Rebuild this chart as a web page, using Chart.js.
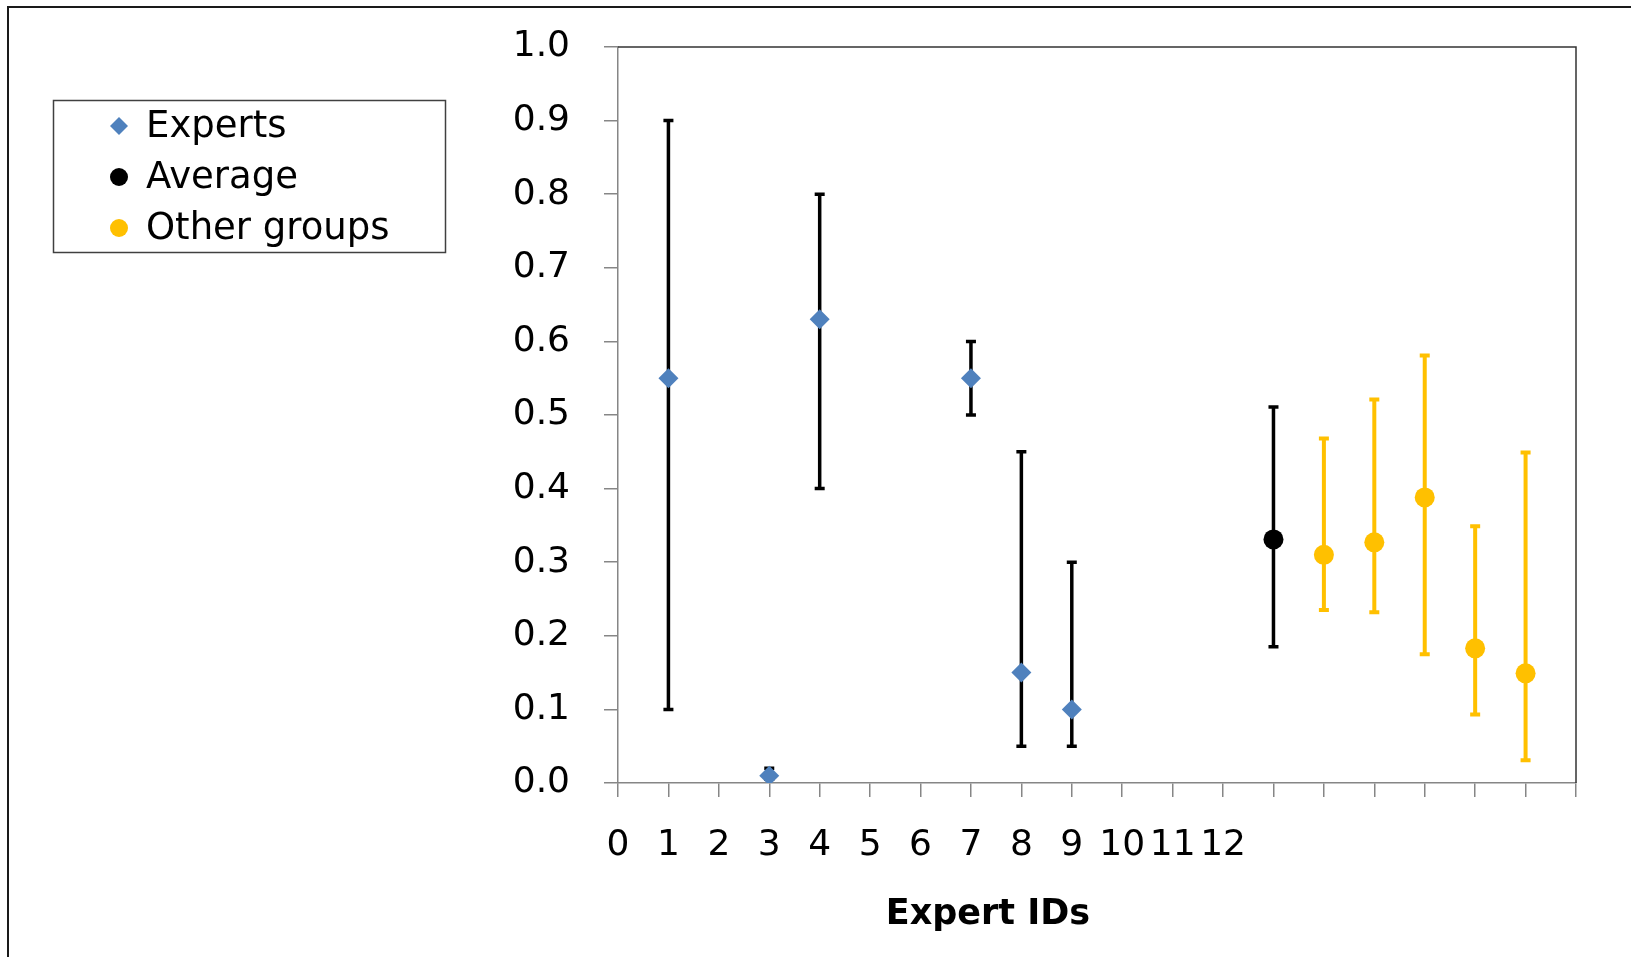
<!DOCTYPE html>
<html lang="en">
<head>
<meta charset="UTF-8" />
<title>Expert IDs</title>
<script src="https://cdn.jsdelivr.net/npm/chart.js"></script>
<style>
  html, body { margin: 0; padding: 0; background: #fff; overflow: hidden; }
  #wrap { position: relative; width: 1631px; height: 957px; }
  #frame {
    position: absolute; left: 7px; top: 6px; width: 1700px; height: 1000px;
    border: 2px solid #1a1a1a; box-sizing: border-box; pointer-events: none;
  }
  canvas { position: absolute; left: 0; top: 0; }
</style>
</head>
<body>
<div id="wrap">
  <canvas id="chart" width="1631" height="957"></canvas>
  <div id="frame"></div>
</div>
<script>
  // experts
  const expertIds = [1, 3, 4, 7, 8, 9];
  const expertValues = [0.55, 0.01, 0.63, 0.55, 0.15, 0.10];
  const expertLow = [0.10, 0.005, 0.40, 0.50, 0.05, 0.05];
  const expertHigh = [0.90, 0.02, 0.80, 0.60, 0.45, 0.30];

  // average of experts
  const averageIds = [13];
  const averageValues = [0.331];
  const averageLow = [0.185];
  const averageHigh = [0.511];

  // other groups
  const otherIds = [14, 15, 16, 17, 18];
  const otherValues = [0.310, 0.327, 0.388, 0.183, 0.149];
  const otherLow = [0.235, 0.232, 0.175, 0.093, 0.031];
  const otherHigh = [0.468, 0.521, 0.581, 0.349, 0.449];

  const xTickLabels = ['0', '1', '2', '3', '4', '5', '6', '7', '8', '9', '10', '11', '12'];
  const xTitle = 'Expert IDs';

  const fontFamily = '"DejaVu Sans", sans-serif';
  const blue = '#4F81BD';
  const gold = '#FFC000';

  // plot box in canvas pixels
  const plotLeft = 618, plotRight = 1576, plotTop = 47, plotBottom = 783;

  function points(ids, vals) {
    return ids.map((id, i) => ({ x: id, y: vals[i] }));
  }

  // vertical error bars with small caps, drawn under the markers
  const errorBars = {
    id: 'errorBars',
    beforeDatasetsDraw(chart) {
      const ctx = chart.ctx;
      const xs = chart.scales.x, ys = chart.scales.y;
      ctx.save();
      chart.data.datasets.forEach(ds => {
        ctx.strokeStyle = ds.errColor;
        ctx.lineWidth = ds.errWidth;
        ds.data.forEach((p, j) => {
          const x = xs.getPixelForValue(p.x);
          const yLo = ys.getPixelForValue(ds.errLow[j]);
          const yHi = ys.getPixelForValue(ds.errHigh[j]);
          ctx.beginPath();
          ctx.moveTo(x, yLo); ctx.lineTo(x, yHi);
          ctx.moveTo(x - 5, yLo); ctx.lineTo(x + 5, yLo);
          ctx.moveTo(x - 5, yHi); ctx.lineTo(x + 5, yHi);
          ctx.stroke();
        });
      });
      ctx.restore();
    }
  };

  // top/right plot border, boxed legend, axis title
  const decorations = {
    id: 'decorations',
    afterDraw(chart) {
      const ctx = chart.ctx;
      const a = chart.chartArea;
      ctx.save();
      ctx.strokeStyle = '#333';
      ctx.lineWidth = 1.5;
      ctx.beginPath();
      ctx.moveTo(a.left, a.top); ctx.lineTo(a.right, a.top); ctx.lineTo(a.right, a.bottom);
      ctx.stroke();

      // legend
      ctx.strokeStyle = '#404040';
      ctx.lineWidth = 1.5;
      ctx.strokeRect(53.5, 100.5, 392, 152);
      const rowY = [126, 177, 228];
      ctx.font = '37px ' + fontFamily;
      ctx.textBaseline = 'middle';
      ctx.textAlign = 'left';
      chart.data.datasets.forEach((ds, i) => {
        ctx.fillStyle = ds.backgroundColor;
        ctx.strokeStyle = ds.backgroundColor;
        Chart.helpers.drawPoint(ctx, {
          pointStyle: ds.pointStyle, radius: ds.legendRadius, rotation: 0, borderWidth: 0
        }, 119, rowY[i]);
        ctx.fillStyle = '#000';
        ctx.fillText(ds.label, 146, rowY[i] + 1);
      });

      // x axis title
      ctx.font = 'bold 35px ' + fontFamily;
      ctx.textAlign = 'center';
      ctx.fillStyle = '#000';
      ctx.fillText(xTitle, 988, 915);
      ctx.restore();
    }
  };

  new Chart(document.getElementById('chart'), {
    type: 'scatter',
    data: {
      datasets: [
        {
          label: 'Experts', data: points(expertIds, expertValues),
          errLow: expertLow, errHigh: expertHigh, errColor: '#000', errWidth: 3.5,
          pointStyle: 'rectRot', pointRadius: 10, legendRadius: 9,
          backgroundColor: blue, borderColor: blue, borderWidth: 0
        },
        {
          label: 'Average', data: points(averageIds, averageValues),
          errLow: averageLow, errHigh: averageHigh, errColor: '#000', errWidth: 3.5,
          pointStyle: 'circle', pointRadius: 10, legendRadius: 9,
          backgroundColor: '#000', borderColor: '#000', borderWidth: 0
        },
        {
          label: 'Other groups', data: points(otherIds, otherValues),
          errLow: otherLow, errHigh: otherHigh, errColor: gold, errWidth: 4,
          pointStyle: 'circle', pointRadius: 10, legendRadius: 9,
          backgroundColor: gold, borderColor: gold, borderWidth: 0
        }
      ]
    },
    options: {
      responsive: false,
      animation: false,
      layout: { padding: { left: 0, right: 1631 - plotRight, top: plotTop, bottom: 0 } },
      plugins: { legend: { display: false }, tooltip: { enabled: false } },
      scales: {
        x: {
          type: 'linear', min: 0, max: 19,
          afterFit: s => { s.height = 957 - plotBottom; s.paddingLeft = 0; s.paddingRight = 0; },
          border: { display: true, color: '#868686', width: 1.5 },
          grid: { drawOnChartArea: false, drawTicks: true, tickLength: 14, color: '#868686', lineWidth: 1.5 },
          ticks: {
            stepSize: 1, autoSkip: false, maxRotation: 0, padding: 27,
            color: '#000', font: { family: fontFamily, size: 36 },
            callback: v => xTickLabels[v] ?? ''
          }
        },
        y: {
          min: 0, max: 1,
          afterFit: s => { s.width = plotLeft; s.paddingTop = 0; s.paddingBottom = 0; },
          border: { display: true, color: '#868686', width: 1.5 },
          grid: { drawOnChartArea: false, drawTicks: true, tickLength: 14, color: '#868686', lineWidth: 1.5 },
          ticks: {
            stepSize: 0.1, padding: 34,
            color: '#000', font: { family: fontFamily, size: 36 },
            callback: v => v.toFixed(1)
          }
        }
      }
    },
    plugins: [errorBars, decorations]
  });
</script>
</body>
</html>
